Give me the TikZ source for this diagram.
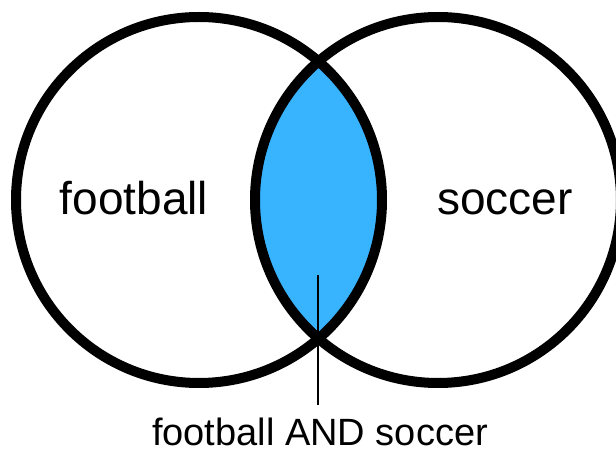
\documentclass[tikz,border=0pt]{standalone}
\usepackage{fontspec}
\setmainfont{Liberation Sans}
\definecolor{lensblue}{RGB}{56,180,255}
\begin{document}
\begin{tikzpicture}[x=1pt,y=-1pt,
  setring/.style={draw=black,line width=10pt},
  lens/.style={fill=lensblue},
  biglabel/.style={font=\fontsize{46}{52}\selectfont,inner sep=0pt,anchor=base},
  smalllabel/.style={font=\fontsize{38}{44}\selectfont,inner sep=0pt,anchor=base},
  pointer/.style={draw=black,line width=2pt}]
\useasboundingbox (0,0) rectangle (616,454);
\coordinate (cl) at (199,200);
\coordinate (cr) at (438,200);
\begin{scope}
  \clip (cl) circle (183pt);
  \fill[lens] (cr) circle (183pt);
\end{scope}
\draw[setring] (cl) circle (183pt);
\draw[setring] (cr) circle (183pt);
\node[biglabel] (football) at (134,215) {football};
\node[biglabel] (soccer) at (505,215) {soccer};
\node[smalllabel] (both) at (320,445) {football AND soccer};
\coordinate (tip) at (318,275);
\draw[pointer] (tip) -- ([yshift=12pt]both.north -| tip);
\end{tikzpicture}
\end{document}
